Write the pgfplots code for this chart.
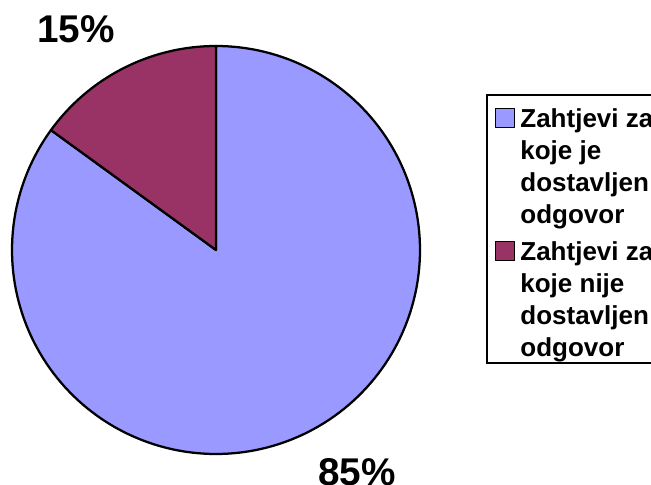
\documentclass[border=0pt]{standalone}
\usepackage{pgfplots}
\pgfplotsset{compat=1.18}
\usepackage{pgfplotstable}
\usepackage{fontspec}
\setmainfont{Liberation Sans}
\definecolor{sliceA}{HTML}{9999FF}
\definecolor{sliceB}{HTML}{993366}
\pgfplotstableread{
part value
1 85
2 15
}\piedata
\pgfplotstablegetelem{0}{value}\of\piedata \let\vA\pgfplotsretval
\pgfplotstablegetelem{1}{value}\of\piedata \let\vB\pgfplotsretval
\pgfmathsetmacro\aStart{90}
\pgfmathsetmacro\bEnd{90+3.6*\vB}
\pgfmathsetmacro\aEnd{\bEnd+3.6*\vA}
\begin{document}
\begin{tikzpicture}[x=0.75pt,y=0.75pt]
\useasboundingbox (0,0) rectangle (651,485);
\clip (0,0) rectangle (651,485);
\begin{axis}[
  at={(0,0)}, anchor=south west,
  width=488.25pt, height=363.75pt, scale only axis,
  xmin=0, xmax=651, ymin=0, ymax=485,
  hide axis, clip=false,
  legend image code/.code={\draw[#1, line width=0.75pt, draw=black] (0pt,0pt) rectangle (14.25pt,14.25pt);},
  legend style={
    at={(rel axis cs:0.74654,0.80619)}, anchor=north west,
    draw=black, line width=1.6pt, fill=white,
    inner xsep=6pt, inner ysep=0.75pt,
    row sep=9.5pt, column sep=4pt,
    font=\bfseries\fontsize{19.5}{24}\selectfont,
    cells={anchor=base west},
    nodes={inner sep=0pt, text depth=},
  },
]
\addplot[fill=sliceA, draw=black, line width=1.7pt, line join=round,
  domain=\bEnd:\aEnd, samples=181]
  ({216+204*cos(x)},{235+204*sin(x)}) -- (axis cs:216,235) -- cycle;
\addlegendentry{\vtop{\baselineskip=24pt\hbox{\rule{0pt}{23.25pt}Zahtjevi za}\hbox{koje je}\hbox{dostavljen}\hbox{odgovor}}}
\addplot[fill=sliceB, draw=black, line width=1.7pt, line join=round,
  domain=\aStart:\bEnd, samples=41]
  ({216+204*cos(x)},{235+204*sin(x)}) -- (axis cs:216,235) -- cycle;
\addlegendentry{\vtop{\baselineskip=24pt\hbox{Zahtjevi za}\hbox{koje nije}\hbox{dostavljen}\hbox{odgovor}}}
\node[font=\bfseries\fontsize{29}{34}\selectfont, anchor=base] at (axis cs:76,442) {15\%};
\node[font=\bfseries\fontsize{29}{34}\selectfont, anchor=base] at (axis cs:357,-1) {85\%};
\end{axis}
\end{tikzpicture}
\end{document}
